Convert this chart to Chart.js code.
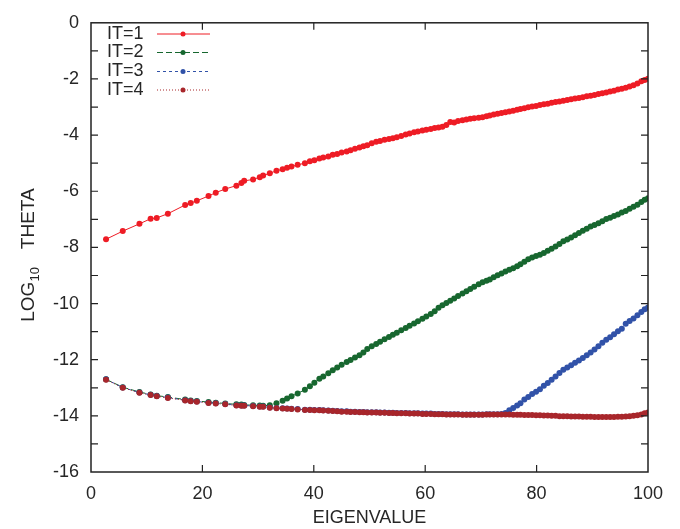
<!DOCTYPE html>
<html>
<head>
<meta charset="utf-8">
<script src="https://cdn.jsdelivr.net/npm/chart.js@4.4.1/dist/chart.umd.min.js"></script>
<style>
  html, body { margin: 0; padding: 0; background: #fff; }
  #wrap { width: 680px; height: 529px; }
</style>
</head>
<body>
<div id="wrap"><canvas id="theta" width="680" height="529"></canvas></div>
<script>
const eigenvalues = [
  2.7, 5.7, 8.7, 10.7, 11.8, 13.8, 16.9, 17.9, 19.0, 21.1,
  22.4, 24.1, 26.1, 27.0, 27.5, 29.1, 30.3, 30.9, 32.1, 33.3,
  34.4, 35.2, 36.0, 37.1, 38.4, 39.3, 40.1, 41.0, 41.7, 42.6,
  43.4, 44.2, 45.0, 45.9, 46.6, 47.4, 48.2, 48.9, 49.6, 50.4,
  51.2, 51.9, 52.7, 53.5, 54.2, 54.9, 55.7, 56.5, 57.2, 58.0,
  58.7, 59.5, 60.2, 61.0, 61.7, 62.4, 63.1, 63.8, 64.5, 65.2,
  65.9, 66.7, 67.4, 68.1, 68.8, 69.6, 70.3, 71.0, 71.6, 72.3,
  73.0, 73.7, 74.4, 75.1, 75.8, 76.5, 77.1, 77.8, 78.5, 79.2,
  79.9, 80.6, 81.3, 82.0, 82.7, 83.4, 84.1, 84.8, 85.5, 86.2,
  86.9, 87.6, 88.3, 89.0, 89.7, 90.4, 91.1, 91.8, 92.5, 93.2,
  93.9, 94.6, 95.3, 96.0, 96.7, 97.4, 98.1, 98.8, 99.4, 100.0
];

const it1 = [
  -7.71, -7.42, -7.16, -6.98, -6.95, -6.80, -6.49, -6.42, -6.34, -6.17,
  -6.05, -5.92, -5.80, -5.71, -5.63, -5.58, -5.50, -5.44, -5.36, -5.27,
  -5.22, -5.16, -5.12, -5.06, -5.00, -4.93, -4.90, -4.83, -4.80, -4.76,
  -4.70, -4.67, -4.62, -4.58, -4.54, -4.49, -4.44, -4.40, -4.36, -4.29,
  -4.24, -4.21, -4.17, -4.14, -4.11, -4.08, -4.03, -3.98, -3.94, -3.90,
  -3.87, -3.84, -3.81, -3.78, -3.75, -3.73, -3.70, -3.64, -3.53, -3.55,
  -3.50, -3.47, -3.44, -3.42, -3.40, -3.38, -3.36, -3.33, -3.30, -3.27,
  -3.24, -3.21, -3.19, -3.16, -3.13, -3.10, -3.07, -3.04, -3.01, -2.98,
  -2.96, -2.93, -2.90, -2.88, -2.85, -2.82, -2.80, -2.78, -2.75, -2.72,
  -2.70, -2.68, -2.65, -2.62, -2.60, -2.57, -2.54, -2.51, -2.48, -2.45,
  -2.42, -2.38, -2.35, -2.31, -2.27, -2.22, -2.16, -2.08, -2.04, -1.99
];

const it2 = [
  -12.70, -12.98, -13.15, -13.24, -13.28, -13.33, -13.42, -13.45, -13.47, -13.51,
  -13.53, -13.56, -13.59, -13.60, -13.61, -13.62, -13.63, -13.64, -13.62, -13.55,
  -13.46, -13.38, -13.30, -13.20, -13.07, -12.95, -12.82, -12.68, -12.60, -12.48,
  -12.38, -12.28, -12.18, -12.08, -12.01, -11.92, -11.84, -11.74, -11.62, -11.52,
  -11.44, -11.36, -11.27, -11.19, -11.11, -11.04, -10.95, -10.87, -10.79, -10.71,
  -10.63, -10.54, -10.46, -10.37, -10.27, -10.15, -10.06, -9.98, -9.90, -9.82,
  -9.73, -9.64, -9.56, -9.48, -9.40, -9.31, -9.24, -9.19, -9.14, -9.06,
  -8.99, -8.93, -8.86, -8.80, -8.74, -8.67, -8.60, -8.51, -8.42, -8.36,
  -8.31, -8.26, -8.20, -8.12, -8.05, -7.97, -7.88, -7.78, -7.72, -7.65,
  -7.57, -7.49, -7.41, -7.34, -7.26, -7.20, -7.14, -7.07, -6.99, -6.94,
  -6.88, -6.83, -6.76, -6.70, -6.62, -6.55, -6.48, -6.38, -6.30, -6.25
];

const it3 = [
  -12.70, -12.99, -13.17, -13.25, -13.29, -13.35, -13.44, -13.47, -13.49, -13.53,
  -13.55, -13.58, -13.62, -13.63, -13.63, -13.65, -13.67, -13.67, -13.70, -13.72,
  -13.73, -13.74, -13.75, -13.76, -13.78, -13.78, -13.79, -13.79, -13.80, -13.81,
  -13.82, -13.83, -13.84, -13.84, -13.85, -13.85, -13.86, -13.86, -13.87, -13.87,
  -13.87, -13.88, -13.88, -13.89, -13.89, -13.90, -13.90, -13.90, -13.91, -13.91,
  -13.91, -13.92, -13.92, -13.92, -13.93, -13.93, -13.93, -13.94, -13.94, -13.94,
  -13.94, -13.95, -13.95, -13.95, -13.95, -13.95, -13.95, -13.94, -13.94, -13.94,
  -13.94, -13.93, -13.90, -13.80, -13.72, -13.63, -13.55, -13.42, -13.33, -13.22,
  -13.14, -13.05, -12.93, -12.83, -12.71, -12.60, -12.47, -12.36, -12.28, -12.20,
  -12.11, -12.03, -11.94, -11.84, -11.74, -11.64, -11.52, -11.40, -11.29, -11.20,
  -11.09, -10.99, -10.90, -10.72, -10.62, -10.53, -10.42, -10.30, -10.20, -10.14
];

const it4 = [
  -12.71, -13.00, -13.18, -13.26, -13.30, -13.36, -13.45, -13.48, -13.50, -13.54,
  -13.56, -13.59, -13.63, -13.64, -13.64, -13.66, -13.68, -13.68, -13.71, -13.73,
  -13.74, -13.75, -13.76, -13.77, -13.79, -13.79, -13.80, -13.80, -13.81, -13.82,
  -13.83, -13.84, -13.85, -13.85, -13.86, -13.86, -13.87, -13.87, -13.88, -13.88,
  -13.88, -13.89, -13.89, -13.90, -13.90, -13.91, -13.91, -13.91, -13.92, -13.92,
  -13.92, -13.93, -13.93, -13.93, -13.94, -13.94, -13.94, -13.95, -13.95, -13.95,
  -13.95, -13.96, -13.96, -13.96, -13.96, -13.96, -13.96, -13.95, -13.95, -13.95,
  -13.95, -13.95, -13.95, -13.95, -13.96, -13.96, -13.96, -13.97, -13.97, -13.97,
  -13.98, -13.98, -13.99, -13.99, -14.00, -14.00, -14.01, -14.01, -14.01, -14.02,
  -14.02, -14.02, -14.03, -14.03, -14.03, -14.04, -14.04, -14.04, -14.04, -14.04,
  -14.04, -14.03, -14.03, -14.02, -14.01, -14.00, -13.98, -13.95, -13.91, -13.88
];

const seriesNames = ['IT=1', 'IT=2', 'IT=3', 'IT=4'];
const seriesColors = ['#ee1c25', '#17672f', '#3152a8', '#a8262b'];
const seriesDashes = [[], [6, 3], [3, 3], [1, 2]];

const xTicks = [0, 20, 40, 60, 80, 100];
const textColor = '#262626';
const font = 'Liberation Sans, Arial, sans-serif';

function toPoints(ys) {
  return eigenvalues.map((x, i) => ({x: x, y: ys[i]}));
}

// frame, inward ticks, axis titles and the in-plot key
const decorations = {
  id: 'decorations',
  afterDraw(chart) {
    const ctx = chart.ctx;
    const a = chart.chartArea;
    const xs = chart.scales.x;
    const ys = chart.scales.y;
    ctx.save();
    ctx.strokeStyle = '#222';
    ctx.lineWidth = 1.5;
    ctx.strokeRect(a.left, a.top, a.right - a.left, a.bottom - a.top);
    ctx.lineWidth = 1.2;
    ctx.beginPath();
    xTicks.slice(1, -1).forEach(v => {
      const px = xs.getPixelForValue(v);
      ctx.moveTo(px, a.bottom); ctx.lineTo(px, a.bottom - 7);
      ctx.moveTo(px, a.top); ctx.lineTo(px, a.top + 7);
    });
    for (let v = -15; v <= -1; v++) {
      const py = ys.getPixelForValue(v);
      ctx.moveTo(a.left, py); ctx.lineTo(a.left + 7, py);
      ctx.moveTo(a.right, py); ctx.lineTo(a.right - 7, py);
    }
    ctx.stroke();

    ctx.fillStyle = textColor;
    ctx.font = '18px ' + font;
    ctx.textAlign = 'center';
    ctx.textBaseline = 'middle';
    ctx.fillText('EIGENVALUE', (a.left + a.right) / 2, 518);

    // y title: LOG with subscript 10, then THETA
    ctx.save();
    ctx.translate(29, 255);
    ctx.rotate(-Math.PI / 2);
    ctx.textAlign = 'left';
    ctx.textBaseline = 'middle';
    ctx.font = '19px ' + font;
    const w1 = ctx.measureText('LOG').width;
    ctx.font = '13px ' + font;
    const w2 = ctx.measureText('10').width;
    ctx.font = '19px ' + font;
    const gap = 18;
    const w3 = ctx.measureText('THETA').width;
    let x0 = -(w1 + w2 + gap + w3) / 2;
    ctx.fillText('LOG', x0, 0);
    ctx.font = '13px ' + font;
    ctx.fillText('10', x0 + w1, 6);
    ctx.font = '19px ' + font;
    ctx.fillText('THETA', x0 + w1 + w2 + gap, 0);
    ctx.restore();

    // key
    const keyY = [34, 52.5, 71.5, 90];
    ctx.font = '18px ' + font;
    ctx.textAlign = 'left';
    ctx.textBaseline = 'middle';
    seriesNames.forEach((name, i) => {
      const y = keyY[i];
      ctx.fillStyle = textColor;
      ctx.fillText(name, 107, y);
      ctx.strokeStyle = seriesColors[i];
      ctx.lineWidth = 1;
      ctx.setLineDash(seriesDashes[i]);
      ctx.beginPath();
      ctx.moveTo(157, y); ctx.lineTo(210, y);
      ctx.stroke();
      ctx.setLineDash([]);
      ctx.fillStyle = seriesColors[i];
      ctx.beginPath();
      ctx.arc(183, y, 2.5, 0, Math.PI * 2);
      ctx.fill();
    });
    ctx.restore();
  }
};

const datasets = [it1, it2, it3, it4].map((ys, i) => ({
  label: seriesNames[i],
  data: toPoints(ys),
  borderColor: seriesColors[i],
  backgroundColor: seriesColors[i],
  borderWidth: 1,
  borderDash: seriesDashes[i],
  pointRadius: 3,
  pointBorderWidth: 0,
  pointHoverRadius: 3,
  tension: 0,
  order: 3 - i
}));

new Chart(document.getElementById('theta'), {
  type: 'line',
  data: { datasets: datasets },
  options: {
    responsive: false,
    animation: false,
    layout: { padding: { top: 16, right: 32, left: 0, bottom: 0 } },
    plugins: {
      legend: { display: false },
      tooltip: { enabled: false }
    },
    scales: {
      x: {
        type: 'linear',
        min: 0,
        max: 100,
        afterFit: s => { s.height = 57; },
        afterBuildTicks: s => { s.ticks = xTicks.map(v => ({value: v})); },
        grid: { display: false, drawTicks: false },
        border: { display: false },
        ticks: { color: textColor, font: { family: font, size: 18 }, padding: 11, maxRotation: 0 }
      },
      y: {
        type: 'linear',
        min: -16,
        max: 0,
        afterFit: s => { s.width = 91; },
        grid: { display: false, drawTicks: false },
        border: { display: false },
        ticks: { stepSize: 2, color: textColor, font: { family: font, size: 18 }, padding: 12 }
      }
    }
  },
  plugins: [decorations]
});
</script>
</body>
</html>
